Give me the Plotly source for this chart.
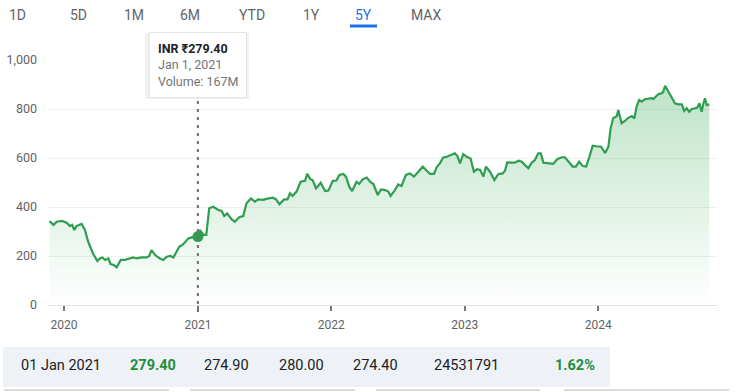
import plotly.graph_objects as go

# ---------------- data ----------------
dates = [
    "2019-11-22","2019-12-03","2019-12-12","2019-12-26","2020-01-08","2020-01-17","2020-01-23","2020-01-29",
    "2020-02-04","2020-02-18","2020-02-27","2020-03-07","2020-03-21","2020-04-01","2020-04-08","2020-04-15",
    "2020-04-22","2020-05-01","2020-05-07","2020-05-16","2020-05-24","2020-06-04","2020-06-15","2020-06-24",
    "2020-07-08","2020-07-17","2020-07-31","2020-08-14","2020-08-21","2020-08-27","2020-09-06","2020-09-19",
    "2020-09-28","2020-10-08","2020-10-18","2020-10-26","2020-10-30","2020-11-11","2020-11-22","2020-12-06",
    "2020-12-15","2021-01-01","2021-01-07","2021-01-16","2021-01-24","2021-02-01","2021-02-12","2021-02-26",
    "2021-03-07","2021-03-14","2021-03-22","2021-04-03","2021-04-12","2021-04-24","2021-05-05","2021-05-14",
    "2021-05-26","2021-06-06","2021-06-15","2021-06-29","2021-07-10","2021-07-25","2021-08-03","2021-08-12",
    "2021-08-25","2021-09-03","2021-09-10","2021-09-17","2021-09-28","2021-10-09","2021-10-21","2021-10-27",
    "2021-11-05","2021-11-11","2021-11-20","2021-12-03","2021-12-15","2021-12-24","2022-01-05","2022-01-15",
    "2022-01-23","2022-02-03","2022-02-10","2022-02-19","2022-02-27","2022-03-11","2022-03-18","2022-03-28",
    "2022-04-08","2022-04-17","2022-04-26","2022-05-08","2022-05-17","2022-05-28","2022-06-06","2022-06-12",
    "2022-06-24","2022-07-03","2022-07-12","2022-07-24","2022-08-04","2022-08-15","2022-08-27","2022-09-08",
    "2022-09-17","2022-09-28","2022-10-09","2022-10-16","2022-10-25","2022-11-03","2022-11-13","2022-11-26",
    "2022-12-05","2022-12-12","2022-12-19","2022-12-28","2023-01-06","2023-01-17","2023-01-26","2023-02-04",
    "2023-02-12","2023-02-21","2023-02-28","2023-03-11","2023-03-23","2023-04-03","2023-04-15","2023-04-21",
    "2023-04-27","2023-05-09","2023-05-18","2023-05-28","2023-06-06","2023-06-15","2023-06-24","2023-07-03",
    "2023-07-12","2023-07-21","2023-07-28","2023-08-04","2023-08-18","2023-08-31","2023-09-11","2023-09-23",
    "2023-10-02","2023-10-11","2023-10-23","2023-11-01","2023-11-10","2023-11-20","2023-11-29","2023-12-08",
    "2023-12-17","2023-12-27","2024-01-09","2024-01-20","2024-01-29","2024-02-04","2024-02-11","2024-02-21",
    "2024-02-25","2024-03-05","2024-03-14","2024-03-23","2024-04-02","2024-04-09","2024-04-15","2024-04-22",
    "2024-04-29","2024-05-08","2024-05-20","2024-05-26","2024-05-31","2024-06-07","2024-06-14","2024-06-23",
    "2024-06-27","2024-07-02","2024-07-11","2024-07-20","2024-07-29","2024-08-07","2024-08-17","2024-08-23",
    "2024-08-30","2024-09-06","2024-09-13","2024-09-22","2024-09-28","2024-10-04","2024-10-10","2024-10-15",
    "2024-10-19","2024-10-24","2024-10-31",
]
prices = [
    343, 327, 340, 343, 336, 322, 327, 306,
    322, 331, 306, 258, 207, 180, 190, 194,
    184, 190, 167, 163, 154, 184, 184, 188,
    194, 190, 194, 194, 200, 224, 204, 190,
    184, 197, 200, 194, 204, 238, 248, 272,
    276, 279.4, 306, 286, 286, 395, 401, 388,
    384, 363, 374, 350, 340, 358, 363, 415,
    435, 422, 431, 429, 434, 438, 431, 411,
    431, 431, 456, 445, 463, 503, 507, 535,
    513, 510, 476, 499, 465, 467, 507, 508,
    531, 535, 524, 483, 465, 503, 494, 513,
    520, 503, 494, 449, 472, 469, 463, 445,
    469, 492, 486, 531, 537, 524, 544, 565,
    551, 535, 535, 562, 578, 602, 605, 612,
    619, 608, 578, 616, 605, 598, 544, 554,
    551, 524, 565, 544, 510, 535, 537, 548,
    582, 581, 581, 589, 585, 571, 558, 581,
    592, 619, 619, 581, 578, 576, 595, 603,
    603, 585, 565, 565, 585, 567, 565, 605,
    650, 648, 646, 620, 646, 721, 762, 771,
    796, 742, 751, 764, 771, 762, 809, 837,
    830, 840, 841, 844, 841, 850, 861, 864,
    871, 895, 871, 846, 823, 819, 819, 792,
    803, 789, 800, 803, 806, 823, 789, 823,
    844, 816, 819,
]

hover_index = dates.index("2021-01-01")
tooltip_lines = ["INR ₹279.40", "Jan 1, 2021", "Volume: 167M"]

year_ticks = ["2020-01-01", "2021-01-01", "2022-01-01", "2023-01-01", "2024-01-01"]
year_labels = ["2020", "2021", "2022", "2023", "2024"]
y_ticks = [0, 200, 400, 600, 800, 1000]

range_buttons = ["1D", "5D", "1M", "6M", "YTD", "1Y", "5Y", "MAX"]
active_button = "5Y"

table_row = ["01 Jan 2021", "279.40", "274.90", "280.00", "274.40", "24531791", "1.62%"]
table_green = [False, True, False, False, False, False, True]

# ---------------- layout helpers ----------------
W, H = 739, 392
L, R, T, B = 48, 22, 60, 87
PW, PH = W - L - R, H - T - B


def px(x):
    return (x - L) / PW


def py(y):
    return (H - B - y) / PH


GREEN = "#2f9e50"
GREY = "#5f6368"
FONT = "Roboto, Arial, sans-serif"

fig = go.Figure()

fig.add_trace(go.Scatter(
    x=dates, y=prices, mode="lines",
    line=dict(color=GREEN, width=2.2),
    fill="tozeroy",
    fillgradient=dict(type="vertical",
                      colorscale=[[0, "rgba(52,168,83,0.0)"], [1, "rgba(52,168,83,0.32)"]]),
    hoverinfo="skip", showlegend=False,
))

fig.add_trace(go.Scatter(
    x=[dates[hover_index]], y=[prices[hover_index]], mode="markers",
    marker=dict(color=GREEN, size=11),
    hoverinfo="skip", showlegend=False,
))

shapes = []
# dotted hover line
shapes.append(dict(type="line", xref="x", yref="paper",
                   x0=dates[hover_index], x1=dates[hover_index],
                   y0=py(312), y1=py(98),
                   line=dict(color="#6f6f6f", width=2, dash="3px,5px"), layer="above"))
# table background
shapes.append(dict(type="rect", xref="paper", yref="paper",
                   x0=px(3), x1=px(610), y0=py(387), y1=py(347),
                   fillcolor="#eef1f5", line=dict(width=0), layer="below"))
# faint lines below table
for a, b in [(4, 169), (190, 355), (376, 540), (564, 729)]:
    shapes.append(dict(type="line", xref="paper", yref="paper",
                       x0=px(a), x1=px(b), y0=py(390), y1=py(390),
                       line=dict(color="#dcdcdc", width=2)))
# active button underline
shapes.append(dict(type="line", xref="paper", yref="paper",
                   x0=px(350), x1=px(377), y0=py(26), y1=py(26),
                   line=dict(color="#1a73e8", width=3)))
# tooltip soft shadow
shapes.append(dict(type="rect", xref="paper", yref="paper",
                   x0=px(145), x1=px(249), y0=py(99), y1=py(33),
                   fillcolor="rgba(0,0,0,0.06)", line=dict(width=0), layer="above"))

annotations = []
button_x = [17, 78, 134, 190, 252, 311, 363, 426]
for lbl, bx in zip(range_buttons, button_x):
    annotations.append(dict(
        text=lbl, xref="paper", yref="paper", x=px(bx), y=py(15),
        xanchor="center", yanchor="middle", showarrow=False,
        font=dict(family=FONT, size=14,
                  color="#1a73e8" if lbl == active_button else GREY)))

# tooltip
tip_text = ("<b>" + tooltip_lines[0] + "</b><br>"
            + "<span style='color:#70757a'>" + tooltip_lines[1] + "</span><br>"
            + "<span style='color:#70757a'>" + tooltip_lines[2] + "</span>")
annotations.append(dict(
    text=tip_text, xref="x", yref="paper", x=dates[hover_index], y=py(98),
    xanchor="center", yanchor="bottom", showarrow=False, align="left",
    bgcolor="white", bordercolor="#e4e5e7", borderwidth=1, borderpad=8,
    font=dict(family=FONT, size=12.5, color="#202124")))

# table row
table_x = [61, 153, 227, 301, 375, 466, 575]
for txt, tx, g in zip(table_row, table_x, table_green):
    annotations.append(dict(
        text=("<b>" + txt + "</b>") if g else txt,
        xref="paper", yref="paper", x=px(tx), y=py(366),
        xanchor="center", yanchor="middle", showarrow=False,
        font=dict(family="Liberation Sans Narrow, Roboto, sans-serif", size=14.5,
                  color="#1e8e3e" if g else "#202124")))

fig.update_layout(
    width=W, height=H,
    margin=dict(l=L, r=R, t=T, b=B),
    paper_bgcolor="white", plot_bgcolor="white",
    font=dict(family=FONT, color=GREY, size=12),
    shapes=shapes, annotations=annotations,
    xaxis=dict(type="date", range=["2019-11-18", "2024-11-21"],
               tickvals=year_ticks, ticktext=year_labels,
               showgrid=False, zeroline=False, automargin=False,
               showline=True, linecolor="#e3e3e3", linewidth=1,
               ticks="outside", ticklen=5, tickwidth=1.5, tickcolor="#777777",
               ticklabelstandoff=4,
               tickfont=dict(size=12, color=GREY), fixedrange=True),
    yaxis=dict(range=[0, 1000], tickvals=y_ticks, tickformat=",",
               showgrid=True, gridcolor="#efefef", gridwidth=1,
               zeroline=False, ticks="", ticklabelstandoff=10, automargin=False,
               tickfont=dict(size=12.5, color=GREY), fixedrange=True),
    hovermode=False,
)

fig.write_html("out.html", config={"displayModeBar": False})
